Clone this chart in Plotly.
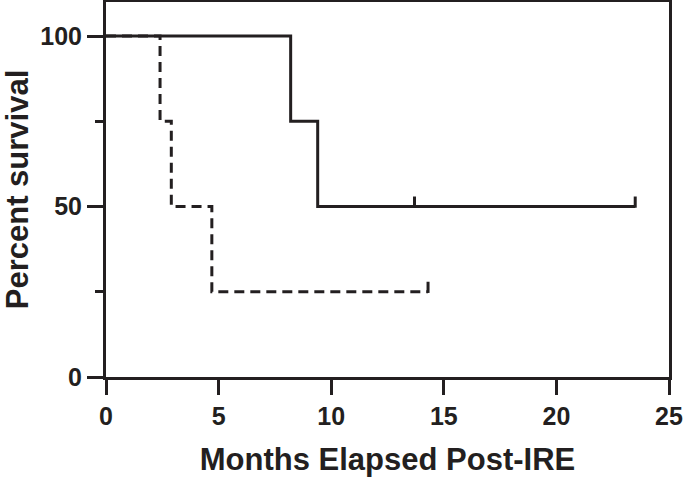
import plotly.graph_objects as go

# Kaplan-Meier data (months, percent survival)
solid_times = [0, 8.2, 9.4, 23.5]
solid_surv = [100, 75, 50, 50]
solid_censor_t = [13.7, 23.5]
solid_censor_s = [50, 50]

dashed_times = [0, 2.4, 2.9, 4.7, 14.3]
dashed_surv = [100, 75, 50, 25, 25]
dashed_censor_t = [14.3]
dashed_censor_s = [25]

x_ticks = [0, 5, 10, 15, 20, 25]
y_ticks = [0, 50, 100]
y_minor = [25, 75]

INK = "#231f20"
FONT = "Liberation Sans, Arial, Helvetica, sans-serif"
censor_lift = 1.3

fig = go.Figure()
fig.add_trace(go.Scatter(x=dashed_times, y=dashed_surv, mode="lines", line_shape="hv",
                         line=dict(color=INK, width=3, dash="10px,6px"), showlegend=False))
fig.add_trace(go.Scatter(x=dashed_censor_t, y=[s + censor_lift for s in dashed_censor_s], mode="markers",
                         marker=dict(symbol="line-ns", size=8, line=dict(color=INK, width=3)),
                         showlegend=False))
fig.add_trace(go.Scatter(x=solid_times, y=solid_surv, mode="lines", line_shape="hv",
                         line=dict(color=INK, width=3), showlegend=False))
fig.add_trace(go.Scatter(x=solid_censor_t, y=[s + censor_lift for s in solid_censor_s], mode="markers",
                         marker=dict(symbol="line-ns", size=8, line=dict(color=INK, width=3)),
                         showlegend=False))

fig.update_layout(
    width=685, height=477,
    margin=dict(l=106, r=16, t=2, b=100),
    plot_bgcolor="white", paper_bgcolor="white",
    font=dict(family=FONT, color=INK),
)
fig.update_xaxes(range=[0, 25], tickvals=x_ticks, ticktext=[str(v) for v in x_ticks],
                 automargin=False,
                 showline=True, linewidth=3, linecolor=INK, mirror=True,
                 ticks="outside", ticklen=15, tickwidth=3, tickcolor=INK,
                 showgrid=False, zeroline=False,
                 tickfont=dict(size=25, family=FONT, weight="bold"),
                 title=dict(text="<b>Months Elapsed Post-IRE</b>", font=dict(size=31), standoff=23))
fig.update_yaxes(range=[0, 110], tickvals=y_ticks, ticktext=[str(v) for v in y_ticks],
                 automargin=False,
                 showline=True, linewidth=3, linecolor=INK, mirror=True,
                 ticks="outside", ticklen=16, tickwidth=3, tickcolor=INK,
                 minor=dict(tickvals=y_minor, ticks="outside", ticklen=8, tickwidth=3, tickcolor=INK),
                 showgrid=False, zeroline=False,
                 tickfont=dict(size=25, family=FONT, weight="bold"),
                 title=dict(text="<b>Percent survival</b>", font=dict(size=31), standoff=6))

fig.write_html("out.html", config={"displayModeBar": False},
               post_script="document.body.style.margin='0';document.body.style.overflow='hidden';")
